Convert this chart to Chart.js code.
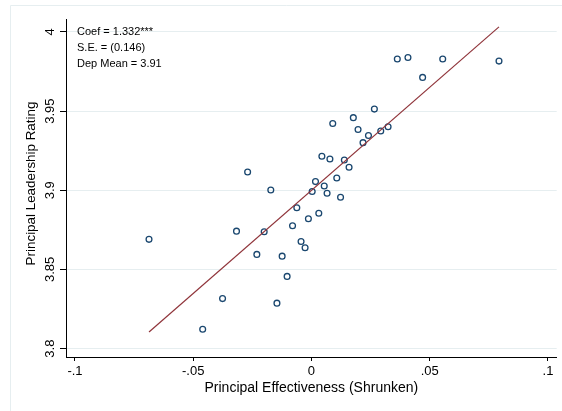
<!DOCTYPE html>
<html>
<head>
<meta charset="utf-8">
<script src="https://cdn.jsdelivr.net/npm/chart.js@4.4.1/dist/chart.umd.min.js"></script>
<style>
  html, body { margin: 0; padding: 0; background: #fff; }
  #wrap { width: 562px; height: 411px; }
</style>
</head>
<body>
<div id="wrap"><canvas id="scatter" width="562" height="411"></canvas></div>
<script>
// principal effectiveness (x) vs leadership rating (y), binned points
const effX = [-0.0687, -0.0460, -0.0376, -0.0317, -0.0270, -0.0231, -0.0200, -0.0172, -0.0146, -0.0124,
    -0.0103, -0.0080, -0.0062, -0.0044, -0.0027, -0.0013, 0.0003, 0.0017, 0.0031, 0.0044,
    0.0054, 0.0066, 0.0078, 0.0090, 0.0107, 0.0123, 0.0139, 0.0159, 0.0177, 0.0197,
    0.0218, 0.0241, 0.0266, 0.0293, 0.0324, 0.0363, 0.0408, 0.0470, 0.0555, 0.0793];
const ratingY = [3.8690, 3.8122, 3.8316, 3.8742, 3.9116, 3.8595, 3.8738, 3.9002, 3.8287, 3.8584,
    3.8456, 3.8776, 3.8890, 3.8677, 3.8637, 3.8820, 3.8992, 3.9055, 3.8855, 3.9215,
    3.9027, 3.8981, 3.9198, 3.9422, 3.9078, 3.8956, 3.9191, 3.9146, 3.9459, 3.9384,
    3.9301, 3.9346, 3.9513, 3.9375, 3.9401, 3.9829, 3.9839, 3.9713, 3.9829, 3.9816];

// fitted line end points
const fitX = [-0.0687, 0.0793];
const fitY = [3.8105, 4.0032];

const xTickValues = [-0.1, -0.05, 0, 0.05, 0.1];
const xTickLabels = ['-.1', '-.05', '0', '.05', '.1'];
const yTickValues = [3.8, 3.85, 3.9, 3.95, 4];
const yTickLabels = ['3.8', '3.85', '3.9', '3.95', '4'];

const yTitle = 'Principal Leadership Rating';
const noteLines = ['Coef = 1.332***', 'S.E. = (0.146)', 'Dep Mean = 3.91'];

const FONT = "'Liberation Sans', Arial, sans-serif";

const frameAndText = {
    id: 'frameAndText',
    beforeDraw(chart) {
        const ctx = chart.ctx;
        ctx.save();
        ctx.fillStyle = '#fff';
        ctx.fillRect(0, 0, chart.width, chart.height);
        ctx.strokeStyle = '#e6eef0';
        ctx.lineWidth = 1;
        ctx.beginPath();
        ctx.moveTo(10.5, chart.height);
        ctx.lineTo(10.5, 5.5);
        ctx.lineTo(chart.width, 5.5);
        ctx.stroke();
        ctx.restore();
    },
    afterDraw(chart) {
        const ctx = chart.ctx;
        const yScale = chart.scales.y;
        ctx.save();
        ctx.fillStyle = '#000';
        ctx.font = '13px ' + FONT;
        ctx.textAlign = 'center';
        ctx.textBaseline = 'middle';
        yTickValues.forEach((v, i) => {
            const py = yScale.getPixelForValue(v);
            ctx.save();
            ctx.translate(50, py);
            ctx.rotate(-Math.PI / 2);
            ctx.fillText(yTickLabels[i], 0, 0);
            ctx.restore();
        });
        // y title, a bit above the middle of the plot like the original
        ctx.save();
        ctx.font = '13.4px ' + FONT;
        ctx.translate(31, 183.5);
        ctx.rotate(-Math.PI / 2);
        ctx.fillText(yTitle, 0, 0);
        ctx.restore();

        ctx.font = '11px ' + FONT;
        ctx.textAlign = 'left';
        noteLines.forEach((t, i) => {
            ctx.fillText(t, chart.chartArea.left + 11, 32 + i * 16);
        });
        ctx.restore();
    }
};

const ctx = document.getElementById('scatter').getContext('2d');
new Chart(ctx, {
    type: 'scatter',
    data: {
        datasets: [
            {
                type: 'line',
                label: 'Fitted',
                data: fitX.map((x, i) => ({ x: x, y: fitY[i] })),
                borderColor: '#90353b',
                borderWidth: 1.2,
                pointRadius: 0,
                fill: false,
                order: 0
            },
            {
                label: 'Binned',
                data: effX.map((x, i) => ({ x: x, y: ratingY[i] })),
                pointRadius: 2.9,
                pointBorderWidth: 1.3,
                borderColor: '#1a476f',
                pointBorderColor: '#1a476f',
                pointBackgroundColor: 'rgba(0,0,0,0)',
                order: 1
            }
        ]
    },
    options: {
        responsive: false,
        animation: false,
        layout: { padding: { left: 0, right: 5, top: 19, bottom: 0 } },
        plugins: {
            legend: { display: false },
            tooltip: { enabled: false }
        },
        scales: {
            x: {
                type: 'linear',
                min: -0.1038,
                max: 0.1037,
                afterBuildTicks: (scale) => { scale.ticks = xTickValues.map(v => ({ value: v })); },
                afterFit: (scale) => { scale.height = 54; },
                ticks: {
                    callback: (v, i) => xTickLabels[i],
                    color: '#000',
                    font: { family: FONT, size: 13 },
                    padding: 3,
                    maxRotation: 0,
                    autoSkip: false
                },
                grid: {
                    drawOnChartArea: false,
                    drawTicks: true,
                    tickLength: 4,
                    tickColor: '#000'
                },
                border: { display: true, color: '#000', width: 1 },
                title: {
                    display: true,
                    text: 'Principal Effectiveness (Shrunken)',
                    color: '#000',
                    font: { family: FONT, size: 14 },
                    padding: { top: 0, bottom: 14.6 }
                }
            },
            y: {
                type: 'linear',
                min: 3.7947,
                max: 4.0082,
                afterBuildTicks: (scale) => { scale.ticks = yTickValues.map(v => ({ value: v })); },
                afterFit: (scale) => { scale.width = 66; },
                ticks: { display: false },
                grid: {
                    color: '#e6eef0',
                    lineWidth: 1,
                    drawTicks: true,
                    tickLength: 6,
                    tickColor: '#000'
                },
                border: { display: true, color: '#000', width: 1 },
                title: { display: false }
            }
        }
    },
    plugins: [frameAndText]
});
</script>
</body>
</html>
